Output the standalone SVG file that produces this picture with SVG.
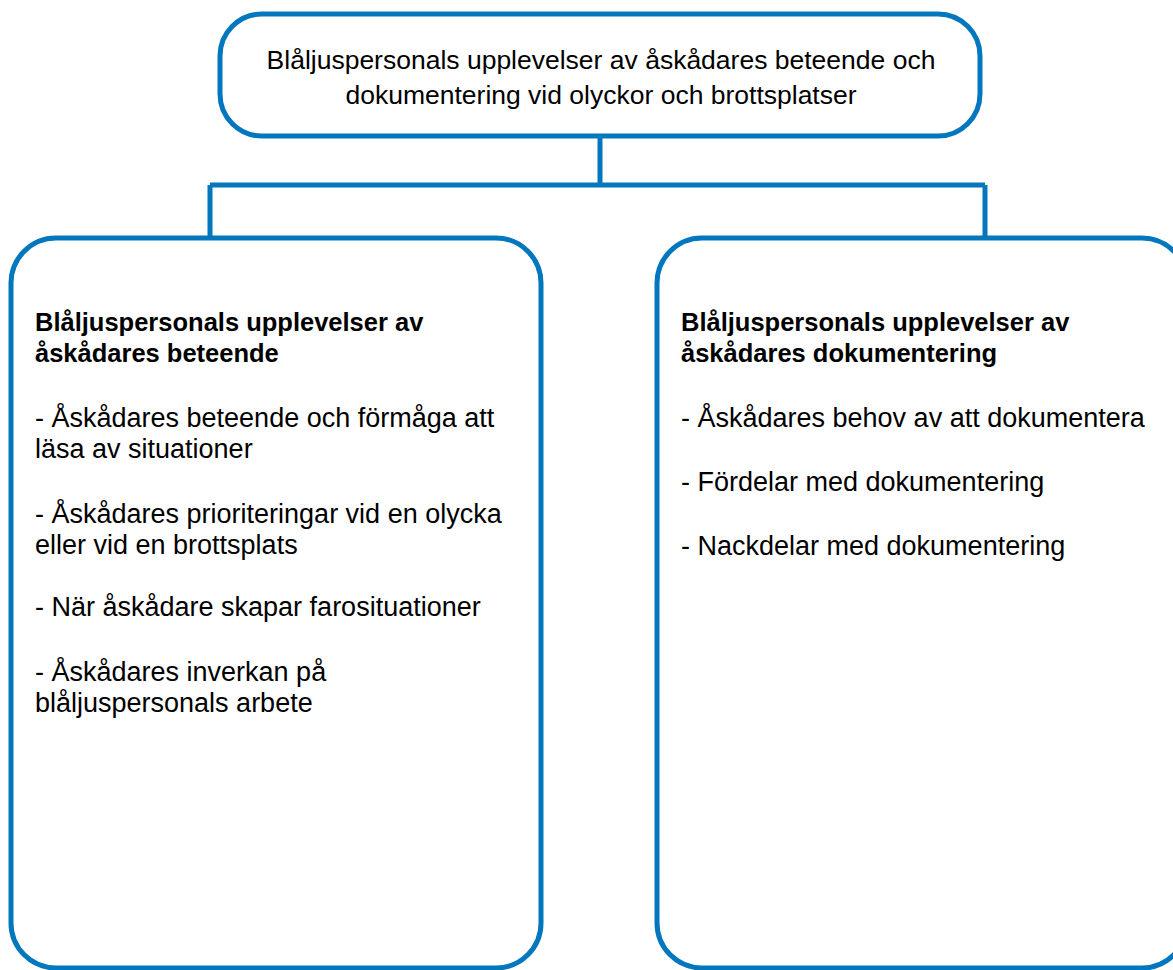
<svg xmlns="http://www.w3.org/2000/svg" width="1173" height="970" viewBox="0 0 1173 970">
<style>
.box{fill:#ffffff;stroke:#0277BD;stroke-width:5}
.conn{fill:none;stroke:#0277BD;stroke-width:5}
.t{font-family:"Liberation Sans",Arial,sans-serif;font-size:26.5px;fill:#000}
.s{font-size:27px}
.b{font-family:"Liberation Sans",Arial,sans-serif;font-size:25.5px;font-weight:bold;fill:#000}
</style>
<rect width="1173" height="970" fill="#ffffff"/>
<g id="connectors">
<path class="conn" d="M600 136 V185 M210 185 H985 M210 185 V238 M985 185 V238"/>
</g>
<g id="root">
<rect class="box" x="220" y="14" width="760" height="122" rx="42" ry="42"/>
<text class="t" x="601" y="69" text-anchor="middle">Blåljuspersonals upplevelser av åskådares beteende och</text>
<text class="t" x="601" y="104" text-anchor="middle">dokumentering vid olyckor och brottsplatser</text>
</g>
<g id="left">
<rect class="box" x="11" y="238" width="530" height="730" rx="45" ry="45"/>
<text class="b" x="35" y="331">Blåljuspersonals upplevelser av</text>
<text class="b" x="35" y="362">åskådares beteende</text>
<text class="t s" x="35" y="427">- Åskådares beteende och förmåga att</text>
<text class="t s" x="35" y="458">läsa av situationer</text>
<text class="t s" x="35" y="523">- Åskådares prioriteringar vid en olycka</text>
<text class="t s" x="35" y="554">eller vid en brottsplats</text>
<text class="t s" x="35" y="616">- När åskådare skapar farosituationer</text>
<text class="t s" x="35" y="681">- Åskådares inverkan på</text>
<text class="t s" x="35" y="712">blåljuspersonals arbete</text>
</g>
<g id="right">
<rect class="box" x="657" y="238" width="530" height="730" rx="45" ry="45"/>
<text class="b" x="681" y="331">Blåljuspersonals upplevelser av</text>
<text class="b" x="681" y="362">åskådares dokumentering</text>
<text class="t s" x="681" y="427">- Åskådares behov av att dokumentera</text>
<text class="t s" x="681" y="491">- Fördelar med dokumentering</text>
<text class="t s" x="681" y="555">- Nackdelar med dokumentering</text>
</g>
</svg>
